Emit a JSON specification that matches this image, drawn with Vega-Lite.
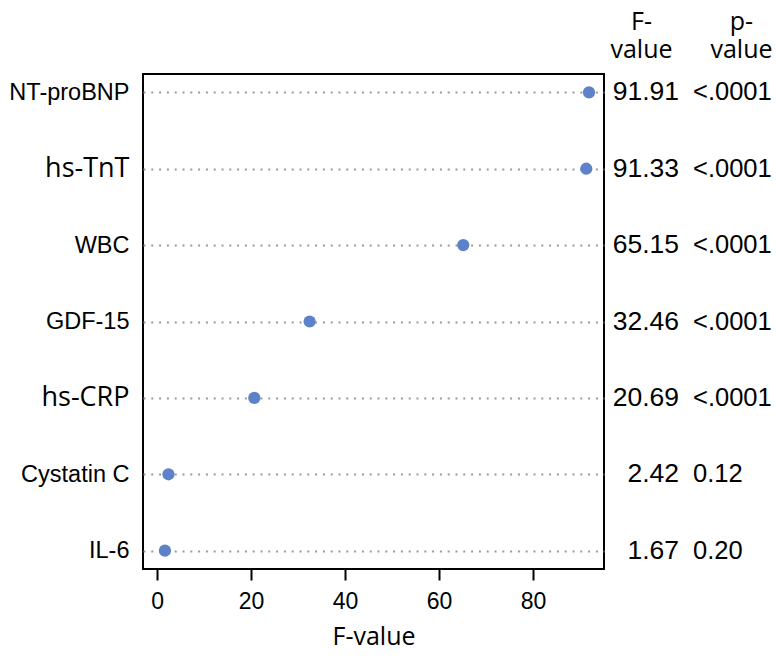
{
  "$schema": "https://vega.github.io/schema/vega-lite/v6.json",
  "padding": {"left": 7, "top": 9, "right": 0, "bottom": 0},
  "data": {"values": [
    {"name": "NT-proBNP", "F": 91.91, "p": "<.0001"},
    {"name": "hs-TnT", "F": 91.33, "p": "<.0001"},
    {"name": "WBC", "F": 65.15, "p": "<.0001"},
    {"name": "GDF-15", "F": 32.46, "p": "<.0001"},
    {"name": "hs-CRP", "F": 20.69, "p": "<.0001"},
    {"name": "Cystatin C", "F": 2.42, "p": "0.12"},
    {"name": "IL-6", "F": 1.67, "p": "0.20"}
  ]},
  "config": {"view": {"stroke": null}, "font": "Liberation Sans"},
  "spacing": 0,
  "hconcat": [
    {
      "width": 461,
      "height": 495,
      "view": {"stroke": "#000", "strokeWidth": 2},
      "mark": {"type": "point", "filled": true, "opacity": 1, "size": 150, "color": "#5E82C9"},
      "encoding": {
        "x": {
          "field": "F", "type": "quantitative",
          "scale": {"domain": [-3, 95.1], "nice": false, "zero": false},
          "axis": {
            "values": [0, 20, 40, 60, 80], "title": "F-value",
            "titleFont": "Open Sans", "titleFontSize": 25, "titleFontWeight": "normal", "titleColor": "#000",
            "labelFont": "Liberation Sans", "labelFontSize": 23, "labelColor": "#000",
            "tickColor": "#000", "tickWidth": 2, "tickSize": 11,
            "domain": false, "grid": false, "labelPadding": 10, "titlePadding": 11
          }
        },
        "y": {
          "field": "name", "type": "nominal",
          "sort": ["NT-proBNP", "hs-TnT", "WBC", "GDF-15", "hs-CRP", "Cystatin C", "IL-6"],
          "scale": {"type": "point", "padding": 0.24},
          "axis": {
            "title": null, "ticks": false, "domain": false,
            "grid": true, "gridColor": "#9a9a9a", "gridDash": [2, 5.8], "gridWidth": 2,
            "labelPadding": 14, "labelColor": "#000",
            "labelFont": {"condition": {"test": "indexof(datum.value, 'hs-') == 0", "value": "Open Sans"}, "value": "Liberation Sans"},
            "labelFontSize": {"condition": {"test": "indexof(datum.value, 'hs-') == 0", "value": 27}, "value": 23.5}
          }
        }
      }
    },
    {
      "width": 172,
      "height": 495,
      "encoding": {
        "y": {
          "field": "name", "type": "nominal",
          "sort": ["NT-proBNP", "hs-TnT", "WBC", "GDF-15", "hs-CRP", "Cystatin C", "IL-6"],
          "scale": {"type": "point", "padding": 0.24},
          "axis": null
        }
      },
      "layer": [
        {
          "mark": {"type": "text", "align": "right", "dx": 38, "fontSize": 26.5, "color": "#000", "font": "Liberation Sans"},
          "encoding": {
            "x": {
              "datum": "F-value", "type": "nominal",
              "scale": {"type": "point", "padding": 0.36, "domain": ["F-value", "p-value"]},
              "axis": {
                "orient": "top", "title": null, "domain": false, "ticks": false, "grid": false,
                "labelExpr": "datum.value == 'F-value' ? ['F-', 'value'] : ['p-', 'value']",
                "labelFont": "Open Sans", "labelFontSize": 25, "labelLineHeight": 28,
                "labelPadding": 40, "labelAngle": 0, "labelColor": "#000"
              }
            },
            "text": {"field": "F", "type": "quantitative", "format": ".2f"}
          }
        },
        {
          "mark": {"type": "text", "align": "left", "dx": -48, "fontSize": 25.5, "color": "#000", "font": "Liberation Sans"},
          "encoding": {
            "x": {"datum": "p-value", "type": "nominal"},
            "text": {"field": "p", "type": "nominal"}
          }
        }
      ]
    }
  ]
}
